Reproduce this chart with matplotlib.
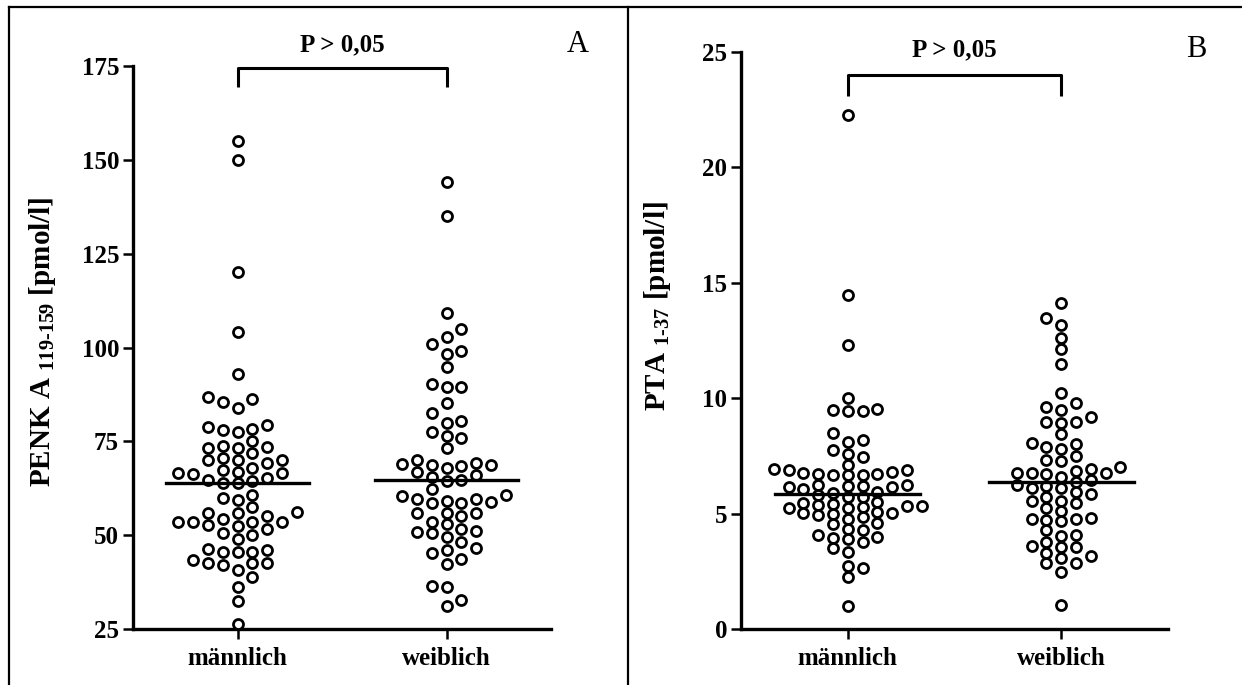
import numpy as np
import matplotlib
matplotlib.use("Agg")
import matplotlib.pyplot as plt
from matplotlib.lines import Line2D

plt.rcParams['font.family'] = ['Liberation Serif', 'DejaVu Serif']
plt.rcParams['font.weight'] = 'bold'
plt.rcParams['mathtext.fontset'] = 'custom'
plt.rcParams['mathtext.rm'] = 'Liberation Serif:bold'
plt.rcParams['mathtext.it'] = 'Liberation Serif:bold'
plt.rcParams['mathtext.bf'] = 'Liberation Serif:bold'

groups = ["männlich", "weiblich"]

# PENK A 119-159 [pmol/l]
penk_m = [155.0, 150.0, 120.0, 104.1, 92.9, 86.7, 85.6, 84.0, 86.2,
          79.4, 78.2, 77.6, 78.0, 78.9, 73.1, 75.1, 73.4, 73.3, 73.8, 72.0,
          70.5, 70.0, 69.3, 70.0, 70.0, 67.4, 67.8, 66.5, 66.2, 66.5, 66.9,
          64.7, 63.8, 64.0, 64.5, 65.2, 60.7, 59.4, 59.8, 57.6,
          56.0, 55.2, 53.6, 52.7, 53.4, 53.4, 53.6, 54.3, 55.8, 56.1,
          51.6, 52.5, 50.7, 48.9, 50.0, 46.2, 45.6, 45.4, 45.6, 46.0,
          42.5, 42.1, 43.4, 42.5, 42.5, 38.9, 40.7, 36.3, 32.5, 26.3]
penk_w = [144.0, 135.0, 109.1, 105.0, 102.9, 100.9, 98.3, 99.2, 94.9,
          90.3, 89.4, 89.6, 85.3, 82.5, 80.4, 79.8, 77.6, 76.0, 76.5, 73.3,
          70.0, 69.0, 68.7, 68.7, 69.3, 67.8, 66.9, 68.4,
          66.0, 64.7, 64.5, 65.6, 62.2,
          60.7, 59.6, 59.2, 59.6, 60.4, 58.5, 58.7, 58.8,
          56.0, 55.8, 55.1, 55.8, 53.6, 52.9,
          50.5, 51.6, 51.1, 50.9, 49.6, 48.3, 45.3, 46.5, 46.0,
          42.3, 43.6, 36.5, 36.1, 31.1, 32.7]

# PTA 1-37 [pmol/l]
pta_m = [22.27, 14.47, 12.3, 10.0, 9.49, 9.46, 9.46, 9.52, 8.48, 8.09, 8.19,
         7.76, 7.58, 7.44, 7.11, 6.72, 6.67, 6.89, 6.77, 6.82, 6.72, 6.89,
         6.93, 6.67, 6.67, 6.05, 5.88, 6.24, 6.20, 6.14, 6.20, 6.24, 5.95,
         6.14, 5.73, 5.52, 5.47, 5.73, 5.81, 5.37, 5.33, 5.30, 5.33, 5.42,
         5.23, 5.08, 5.23, 4.98, 4.94, 4.75, 4.84, 5.01, 5.01, 4.61, 4.55,
         4.29, 4.32, 4.07, 3.93, 3.76, 3.89, 4.00, 3.35, 3.50, 2.63, 2.73,
         2.24, 1.01]
pta_w = [14.11, 13.46, 13.17, 12.6, 12.12, 11.48, 10.21, 9.6, 9.49, 9.78,
         8.98, 8.91, 9.17, 8.96, 8.43, 8.05, 7.87, 7.79, 8.02, 7.50, 7.29,
         7.32, 6.92, 6.77, 6.77, 6.85, 7.0, 6.75, 6.60, 6.72, 6.46, 6.38,
         6.24, 6.10, 6.10, 6.20, 5.95, 5.71, 5.85, 5.56, 5.45, 5.56, 5.11,
         5.23, 4.75, 4.69, 4.75, 4.80, 4.72, 4.29, 4.07, 4.03, 3.60, 3.54,
         3.57, 3.78, 3.06, 2.85, 3.16, 3.31, 2.85, 2.48, 1.04]

W, H, DPI = 12.42, 6.85, 100
fig = plt.figure(figsize=(W, H), dpi=DPI)

panels = [
    dict(pos=[133/1242, 1-629/685, 418/1242, 563/685], data=[penk_m, penk_w],
         ylim=(25, 175), yticks=[25, 50, 75, 100, 125, 150, 175],
         ylabel=r"PENK A $_{\text{119-159}}$ [pmol/l]", ylab_xy=(-0.18, 0.51),
         brk=(174.5, 169.5), ptxt=180.6, letter="A", gap=11.5),
    dict(pos=[741/1242, 1-629/685, 427/1242, 577/685], data=[pta_m, pta_w],
         ylim=(0, 25), yticks=[0, 5, 10, 15, 20, 25],
         ylabel=r"PTA $_{\text{1-37}}$ [pmol/l]", ylab_xy=(-0.16, 0.56),
         brk=(24.0, 23.1), ptxt=25.1, letter="B", gap=9.5),
]


def swarm(vals, px_y, step_px, thresh_px):
    vals = np.asarray(vals)
    cols = {}
    k_out = np.zeros(len(vals))
    flip = True
    for i in np.argsort(vals):
        y = vals[i] * px_y
        cand = [0]
        for m in range(1, 20):
            cand += [m, -m] if flip else [-m, m]
        for k in cand:
            if all(abs(y - yy) >= thresh_px for yy in cols.get(k, [])):
                cols.setdefault(k, []).append(y)
                k_out[i] = k
                if k != 0:
                    flip = not flip
                break
    return k_out * step_px


for p in panels:
    ax = fig.add_axes(p["pos"])
    ax.set_xlim(-0.5, 1.5)
    ax.set_ylim(*p["ylim"])
    px_x = p["pos"][2] * W * DPI / 2.0
    px_y = p["pos"][3] * H * DPI / (p["ylim"][1] - p["ylim"][0])
    for gi, vals in enumerate(p["data"]):
        off = swarm(vals, px_y, 14.8, p["gap"]) / px_x
        ax.scatter(gi + off, vals, s=7.2**2, facecolors='white',
                   edgecolors='black', linewidths=2.0, zorder=3, clip_on=False)
        med = np.median(vals)
        ax.plot([gi - 0.34, gi + 0.34], [med, med], color='black', lw=2.4, zorder=4)
    # significance bracket
    top, low = p["brk"]
    ax.plot([0, 0, 1, 1], [low, top, top, low], color='black', lw=2.2,
            clip_on=False, solid_capstyle='butt')
    ax.text(0.5, p["ptxt"], "P > 0,05", ha='center', va='center', fontsize=18,
            fontweight='bold')
    ax.text(1.63, p["ptxt"], p["letter"], ha='center', va='center', fontsize=22,
            fontweight='normal')
    ax.set_xticks([0, 1])
    ax.set_xticklabels(groups, fontsize=18, fontweight='bold')
    ax.set_yticks(p["yticks"])
    ax.set_yticklabels([str(t) for t in p["yticks"]], fontsize=18, fontweight='bold')
    ax.set_ylabel(p["ylabel"], fontsize=21, fontweight='bold')
    ax.yaxis.set_label_coords(*p["ylab_xy"])
    for s in ["top", "right"]:
        ax.spines[s].set_visible(False)
    for s in ["left", "bottom"]:
        ax.spines[s].set_linewidth(2.4)
    ax.tick_params(length=7, width=1.8, pad=3)
    ax.tick_params(axis='x', pad=6)

# outer frame
fig.add_artist(Line2D([9/1242, 9/1242], [0, 1-7/685], color='black', lw=1.6))
fig.add_artist(Line2D([9/1242, 1], [1-7/685, 1-7/685], color='black', lw=1.6))
fig.add_artist(Line2D([628/1242, 628/1242], [0, 1-7/685], color='black', lw=1.6))

fig.savefig("out.png", dpi=DPI)
